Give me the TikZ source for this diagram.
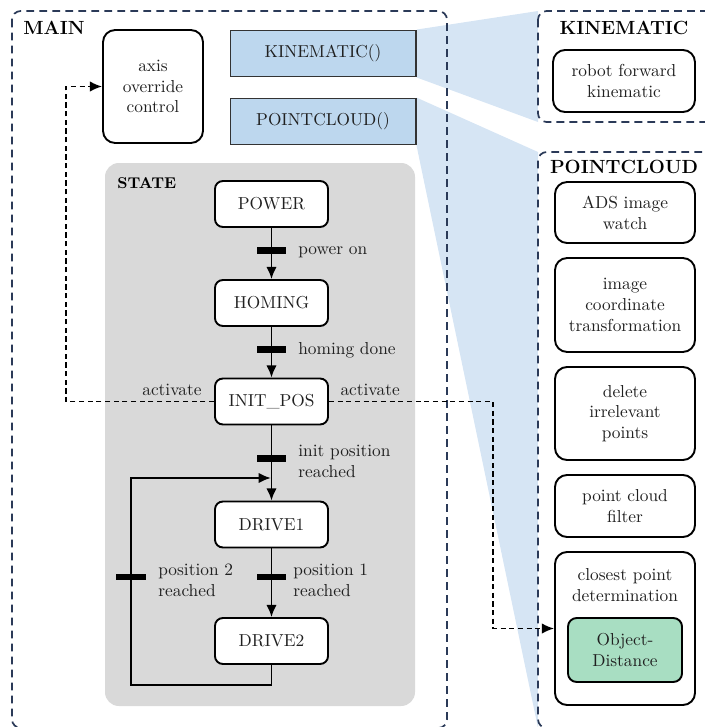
\documentclass[tikz,border=0pt]{standalone}
\usetikzlibrary{arrows.meta,backgrounds}

\definecolor{navy}{HTML}{2B3A58}
\definecolor{boxblue}{HTML}{BDD7EE}
\definecolor{wedgeblue}{HTML}{D6E5F4}
\definecolor{stategray}{HTML}{D9D9D9}
\definecolor{objgreen}{HTML}{A8DEC2}
\definecolor{inkgray}{HTML}{202020}

\tikzset{
  frame/.style={draw=navy, line width=1pt, dash pattern=on 4.5pt off 3pt, rounded corners=5pt},
  block/.style={draw=black, line width=1.1pt, fill=white, align=center, inner sep=0pt,
                text=inkgray, rounded corners=7pt},
  stbox/.style={block, rounded corners=4.5pt, minimum width=65.2pt, minimum height=26.5pt},
  funcbox/.style={draw=black!80, line width=1.1pt, fill=boxblue, inner sep=0pt, text=inkgray,
                  minimum width=106.8pt, minimum height=26.5pt},
  pbox/.style={block, minimum width=80.8pt},
  bar/.style={fill=black, inner sep=0pt, minimum width=16.8pt, minimum height=4pt},
  flow/.style={line width=1.1pt, -{Latex[length=7pt,width=6pt]}},
  signal/.style={line width=0.9pt, dash pattern=on 3pt off 2pt, -{Latex[length=7pt,width=6pt]}},
  lbl/.style={text=inkgray, align=left, inner sep=0pt},
  title/.style={font=\fontsize{11}{13}\selectfont\bfseries, inner sep=0pt},
}

\begin{document}
\begin{tikzpicture}[x=0.577pt, y=-0.577pt]
\useasboundingbox (0,0) rectangle (705,727);
\clip (0,0) rectangle (705,727);

% corners of the two detail panels
\coordinate (kinTL) at (538,11);
\coordinate (kinBL) at (538,122);
\coordinate (pcTL) at (538,152);
\coordinate (pcBL) at (538,728);

% function call boxes
\node[funcbox] (kin) at (323,53.5) {KINEMATIC()};
\node[funcbox] (pc) at (323,121.5) {POINTCLOUD()};

% zoom wedges from the calls to their panels
\begin{scope}[on background layer]
\fill[wedgeblue] (kin.north east) -- (kinTL) -- (kinBL) -- (kin.south east) -- cycle;
\fill[wedgeblue] (pc.north east) -- (pcTL) -- (pcBL) -- (pc.south east) -- cycle;
\end{scope}

% frames
\draw[frame] (12,11) rectangle (447,728);
\draw[frame, fill=white] (kinTL) rectangle (730,122);
\draw[frame, fill=white] (pcTL) rectangle (730,728);

\node[title, anchor=west] (mainT) at (23,28) {MAIN};
\node[title] (kinT) at (624,28) {KINEMATIC};
\node[title] (pcT) at (624,167) {POINTCLOUD};

% state machine area
\fill[stategray, rounded corners=8pt] (105,163) rectangle (415,706);
\node[font=\fontsize{9}{11}\selectfont\bfseries, anchor=west, inner sep=0pt] (stateT) at (117,183) {STATE};

\node[block, minimum width=57.7pt, minimum height=65.2pt] (axis) at (153,86.5) {axis\\override\\control};

% states
\node[stbox] (power) at (271.5,204) {POWER};
\node[stbox] (homing) at (271.5,303) {HOMING};
\node[stbox] (init) at (271.5,401.5) {INIT\_POS};
\node[stbox] (drive1) at (271.5,524.5) {DRIVE1};
\node[stbox] (drive2) at (271.5,641) {DRIVE2};

\coordinate (loopBR) at (271.5,685);
\coordinate (loopBL) at (131,685);
\coordinate (loopTL) at (131,478);
\coordinate (loopTR) at (270.8,478);

\draw[flow] (power) -- (homing);
\draw[flow] (homing) -- (init);
\draw[flow] (init) -- (drive1);
\draw[flow] (drive1) -- (drive2);
\draw[flow] (drive2.south) -- (loopBR) -- (loopBL) -- (loopTL) -- (loopTR);

% transitions
\node[bar] (t1) at (271.5,250.5) {};
\node[bar] (t2) at (271.5,349.5) {};
\node[bar] (t3) at (271.5,458.5) {};
\node[bar] (t4) at (271.5,577) {};
\node[bar] (t5) at (131,577) {};

\node[lbl, anchor=west] (l1) at (298,252) {power on};
\node[lbl, anchor=west] (l2) at (298,350) {homing done};
\node[lbl, anchor=west] (l3) at (298,461) {init position\\reached};
\node[lbl, anchor=west] (l4) at (293,580) {position 1\\reached};
\node[lbl, anchor=west] (l5) at (158,580) {position 2\\reached};

% kinematic panel
\node[pbox, minimum width=81.9pt, minimum height=35.8pt] (robot) at (624,81) {robot forward\\kinematic};

% pointcloud panel
\node[pbox, minimum height=35.2pt] (ads) at (625,212.5) {ADS image\\watch};
\node[pbox, minimum height=54.2pt] (coord) at (625,305) {image\\coordinate\\transformation};
\node[pbox, minimum height=53.7pt] (delete) at (625,413.5) {delete\\irrelevant\\points};
\node[pbox, minimum height=35.8pt] (filter) at (625,506) {point cloud\\filter};
\node[pbox, minimum height=88.3pt] (closest) at (625,628.5) {};
\node[lbl, align=center] (closestT) at (625,585) {closest point\\determination};
\node[block, fill=objgreen, rounded corners=5pt, minimum width=65.8pt, minimum height=36.9pt] (obj) at (625,650) {Object-\\Distance};

% activation signals
\coordinate (sigL) at (66,401.5);
\coordinate (sigR) at (493,401.5);
\draw[signal] (init.west) -- (sigL) |- (axis.west);
\draw[signal] (init.east) -- (sigR) |- (closest.west);
\node[lbl, anchor=base east] (actL) at ([xshift=-7pt, yshift=3.5pt]init.west) {activate};
\node[lbl, anchor=base west] (actR) at ([xshift=6.5pt, yshift=3.5pt]init.east) {activate};
\end{tikzpicture}
\end{document}
